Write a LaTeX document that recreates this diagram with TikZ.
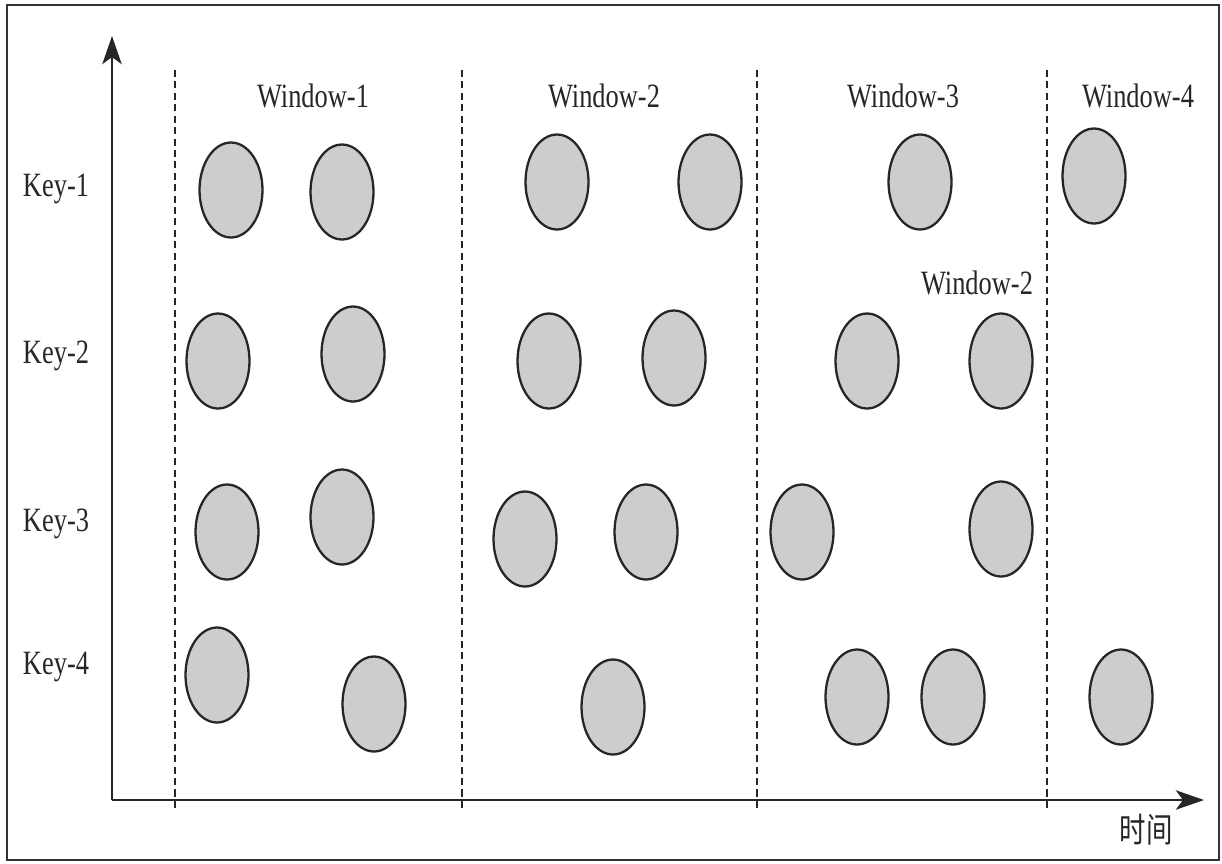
\documentclass[tikz,border=0pt]{standalone}
\usepackage{fontspec}
\setmainfont{Liberation Serif}
\newfontfamily\cjk{Noto Sans CJK SC}
\usepackage{tikz}
\usetikzlibrary{shapes.geometric, arrows.meta, positioning}
\definecolor{evgray}{RGB}{205, 205, 205}
\newcommand{\tall}[1]{\scalebox{0.97}[1.25]{#1}}
\tikzstyle{event} = [
    ellipse, 
    minimum width=1.26cm, 
    minimum height=1.9cm, 
    draw=black!85, 
    line width=1.3pt, 
    fill=evgray
]
\tikzstyle{label} = [
    font=\fontsize{15.5}{18}\selectfont, 
    text=black!85
]
\tikzstyle{axis} = [
    line width=1.5pt, 
    -{Stealth[length=16pt, width=11pt, inset=4pt]}, 
    color=black!85
]
\tikzstyle{border} = [
    dash pattern=on 4pt off 2.5pt, 
    line width=1pt, 
    color=black!85
]

\begin{document}
\begin{tikzpicture}[x=0.02cm, y=-0.02cm]
        \useasboundingbox (0, 0) rectangle (1222, 863);
        % Frame
        \draw[line width=1.5pt, color=black!80] (7, 5) rectangle (1219, 860);

        % Axes
        \coordinate (origin) at (112, 800);
        \coordinate (ytip) at (112, 36);
        \coordinate (xtip) at (1204, 800);
        \draw[axis] (origin) -- (ytip);
        \draw[axis] (origin) -- (xtip);
        \node[label] (time) at (1146, 830) {\tall{\cjk 时间}};

        % Window borders
        \coordinate (b1top) at (175, 70);   \coordinate (b1bot) at (175, 808);
        \coordinate (b2top) at (462, 70);   \coordinate (b2bot) at (462, 808);
        \coordinate (b3top) at (757, 70);   \coordinate (b3bot) at (757, 808);
        \coordinate (b4top) at (1047, 70);  \coordinate (b4bot) at (1047, 808);
        \draw[border] (b1top) -- (b1bot);
        \draw[border] (b2top) -- (b2bot);
        \draw[border] (b3top) -- (b3bot);
        \draw[border] (b4top) -- (b4bot);

        % Window labels
        \node[label] (w1) at (313, 96) {\tall{Window-1}};
        \node[label] (w2) at (604, 96) {\tall{Window-2}};
        \node[label] (w3) at (903, 96) {\tall{Window-3}};
        \node[label] (w4) at (1138, 96) {\tall{Window-4}};
        \node[label] (w2b) at (977, 283) {\tall{Window-2}};

        % Keys
        \node[label] (k1) at (56, 189) {\tall{Key-1}};
        \node[label] (k2) at (56, 356) {\tall{Key-2}};
        \node[label] (k3) at (56, 524) {\tall{Key-3}};
        \node[label] (k4) at (56, 667) {\tall{Key-4}};

        % Key-1 events
        \node[event] (e11) at (231, 190) {};
        \node[event] (e12) at (342, 192) {};
        \node[event] (e13) at (557, 182) {};
        \node[event] (e14) at (710, 182) {};
        \node[event] (e15) at (920, 182) {};
        \node[event] (e16) at (1094, 176) {};

        % Key-2 events
        \node[event] (e21) at (218, 361) {};
        \node[event] (e22) at (353, 354) {};
        \node[event] (e23) at (549, 361) {};
        \node[event] (e24) at (674, 358) {};
        \node[event] (e25) at (867, 361) {};
        \node[event] (e26) at (1001, 361) {};

        % Key-3 events
        \node[event] (e31) at (227, 532) {};
        \node[event] (e32) at (342, 517) {};
        \node[event] (e33) at (525, 539) {};
        \node[event] (e34) at (646, 532) {};
        \node[event] (e35) at (802, 532) {};
        \node[event] (e36) at (1001, 529) {};

        % Key-4 events
        \node[event] (e41) at (217, 675) {};
        \node[event] (e42) at (374, 704) {};
        \node[event] (e43) at (613, 707) {};
        \node[event] (e44) at (857, 697) {};
        \node[event] (e45) at (953, 697) {};
        \node[event] (e46) at (1121, 697) {};
    \end{tikzpicture}
\end{document}
